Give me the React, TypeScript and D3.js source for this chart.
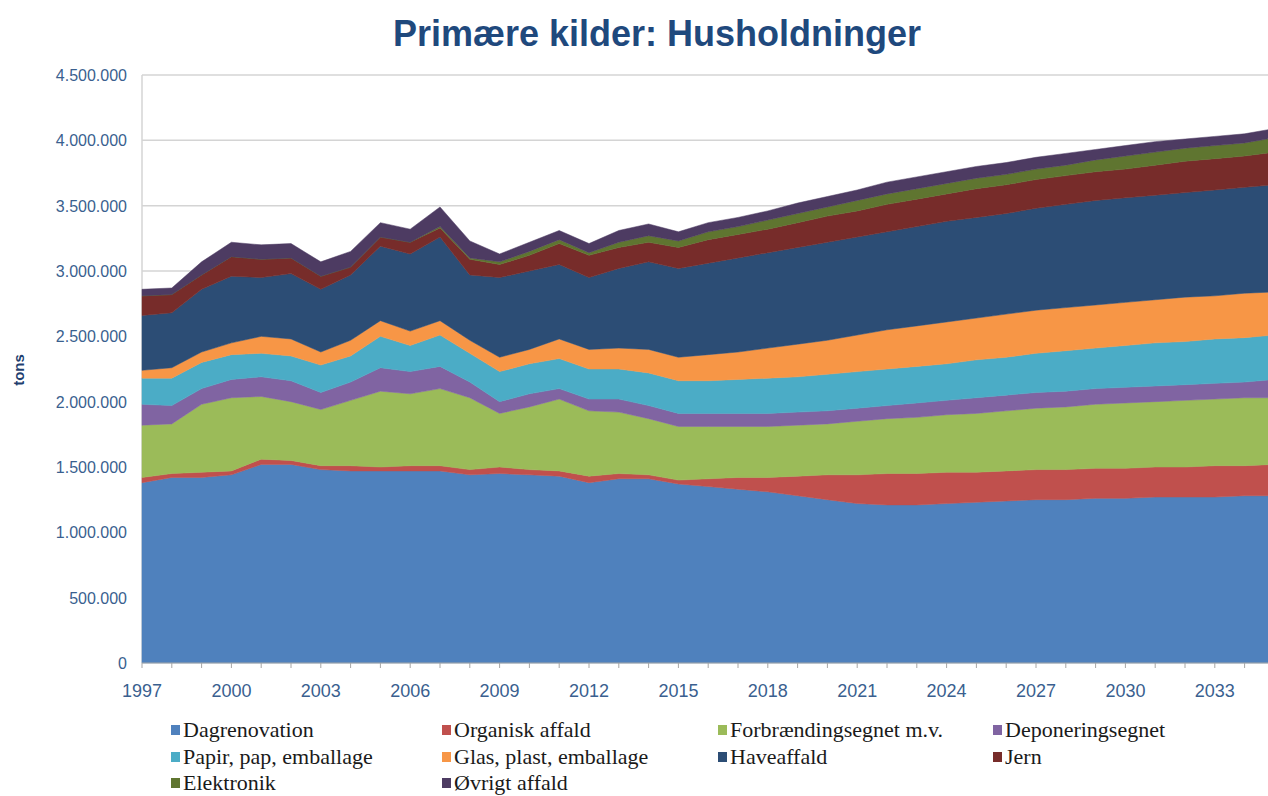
import * as d3 from 'd3'

const years = d3.range(1997, 2036)

// tusind tons pr. år
const dagrenovation = [1380,1420,1420,1440,1520,1520,1480,1470,1470,1470,1470,1440,1450,1440,1430,1380,1410,1410,1370,1350,1330,1310,1280,1250,1220,1210,1210,1220,1230,1240,1250,1250,1260,1260,1270,1270,1270,1280,1280]
const organisk = [40,30,40,30,40,30,30,40,30,40,40,40,50,40,40,50,40,30,30,60,90,110,150,190,220,240,240,240,230,230,230,230,230,230,230,230,240,230,240]
const forbraending = [400,380,520,560,480,450,430,500,580,550,590,550,410,480,550,500,470,430,410,400,390,390,390,390,410,420,430,440,450,460,470,480,490,500,500,510,510,520,510]
const deponering = [160,140,120,140,150,160,130,140,180,170,170,120,90,100,80,90,100,100,100,100,100,100,100,100,100,100,110,110,120,120,120,120,120,120,120,120,120,120,140]
const papir = [200,210,200,190,180,190,210,200,240,200,240,220,230,230,230,230,230,250,250,250,260,270,270,280,280,280,280,280,290,290,300,310,310,320,330,330,340,340,340]
const glas = [60,80,80,90,130,130,100,120,120,110,110,100,110,110,150,150,160,180,180,200,210,230,250,260,280,300,310,320,320,330,330,330,330,330,330,340,330,340,330]
const haveaffald = [420,420,480,510,450,500,480,500,570,590,640,500,610,600,570,550,610,670,680,700,720,730,740,750,750,750,760,770,770,770,780,790,800,800,800,800,810,810,820]
const jern = [150,140,110,150,140,120,100,60,70,90,70,120,100,120,160,170,160,150,160,180,180,180,190,200,200,210,210,210,220,220,220,220,220,220,230,240,240,240,250]
const elektronik = [0,0,0,0,0,0,0,0,0,0,10,10,20,30,30,20,40,50,50,60,60,70,70,70,80,80,80,80,80,80,80,80,90,100,100,100,100,100,110]
const oevrigt = [50,50,100,110,110,110,110,120,110,100,150,130,60,70,70,70,90,90,70,70,70,70,80,80,80,90,90,90,90,90,90,90,80,80,80,70,70,70,70]

const seriesNames = [
  'Dagrenovation', 'Organisk affald', 'Forbrændingsegnet m.v.', 'Deponeringsegnet',
  'Papir, pap, emballage', 'Glas, plast, emballage', 'Haveaffald', 'Jern',
  'Elektronik', 'Øvrigt affald',
]
const seriesValues = [dagrenovation, organisk, forbraending, deponering, papir, glas, haveaffald, jern, elektronik, oevrigt]
const colors = ['#4F81BD', '#C0504D', '#9BBB59', '#8064A2', '#4BACC6', '#F79646', '#2C4D75', '#772C2A', '#5F7530', '#4D3B62']

const yTicks = d3.range(0, 4500001, 500000)
const xTickLabels = d3.range(1997, 2035, 3)

const width = 1268
const height = 796
const margin = { left: 142, top: 75, bottom: 663 }

export default function App() {
  const x = d3.scaleLinear().domain([1997, 2035]).range([margin.left, margin.left + 38 * 29.8])
  const y = d3.scaleLinear().domain([0, 4500000]).range([margin.bottom, margin.top])

  const rows = years.map((yr, i) => {
    const r: Record<string, number> = { year: yr }
    seriesNames.forEach((n, k) => { r[n] = seriesValues[k][i] * 1000 })
    return r
  })
  const stacked = d3.stack<Record<string, number>>().keys(seriesNames)(rows)
  const area = d3.area<d3.SeriesPoint<Record<string, number>>>()
    .x(d => x(d.data.year))
    .y0(d => y(d[0]))
    .y1(d => y(d[1]))

  const fmt = (v: number) => d3.format(',')(v).replace(/,/g, '.')
  const legendCols = [171, 442, 718, 993]
  const legendRows = [731, 758, 784]
  const axisColor = '#3A5F8F'
  const sans = "Arial, 'Liberation Sans', sans-serif"

  return (
    <svg width={width} height={height} style={{ position: 'absolute', left: 0, top: 0, background: '#fff' }}>
      <text x={657} y={46} textAnchor="middle" fontFamily={sans}
        fontWeight="bold" fontSize={36} fill="#1F497D">Primære kilder: Husholdninger</text>

      {yTicks.map(t => (
        <g key={t}>
          {t > 0 && <line x1={margin.left} x2={width} y1={y(t)} y2={y(t)} stroke="#D4D4D4" strokeWidth={1.5} />}
          <text x={127} y={y(t) + 6} textAnchor="end" fontFamily={sans}
            fontSize={16} fill={axisColor}>{fmt(t)}</text>
        </g>
      ))}
      <line x1={margin.left} x2={margin.left} y1={margin.top} y2={margin.bottom} stroke="#D4D4D4" strokeWidth={1.5} />

      {stacked.map((s, k) => (
        <path key={s.key} d={area(s) ?? ''} fill={colors[k]} stroke={colors[k]} strokeWidth={0.5} />
      ))}

      <line x1={margin.left} x2={width} y1={margin.bottom} y2={margin.bottom} stroke="#A6A6A6" strokeWidth={1} />
      {years.map(yr => (
        <line key={yr} x1={x(yr)} x2={x(yr)} y1={margin.bottom} y2={margin.bottom + 5} stroke="#A6A6A6" strokeWidth={1} />
      ))}
      {xTickLabels.map(yr => (
        <text key={yr} x={x(yr)} y={697} textAnchor="middle" fontFamily={sans}
          fontSize={18} fill={axisColor}>{yr}</text>
      ))}

      <text transform={`translate(24, 370) rotate(-90)`} textAnchor="middle" fontFamily={sans}
        fontWeight="bold" fontSize={15} fill="#1F3F6F">tons</text>

      {seriesNames.map((n, k) => {
        const cx = legendCols[k % 4]
        const cy = legendRows[Math.floor(k / 4)]
        return (
          <g key={n}>
            <rect x={cx} y={cy - 6} width={9} height={10} fill={colors[k]} />
            <text x={cx + 12} y={cy + 6} fontFamily="'Liberation Serif', 'Times New Roman', serif"
              fontSize={22} fill="#1a1a1a">{n}</text>
          </g>
        )
      })}
    </svg>
  )
}
